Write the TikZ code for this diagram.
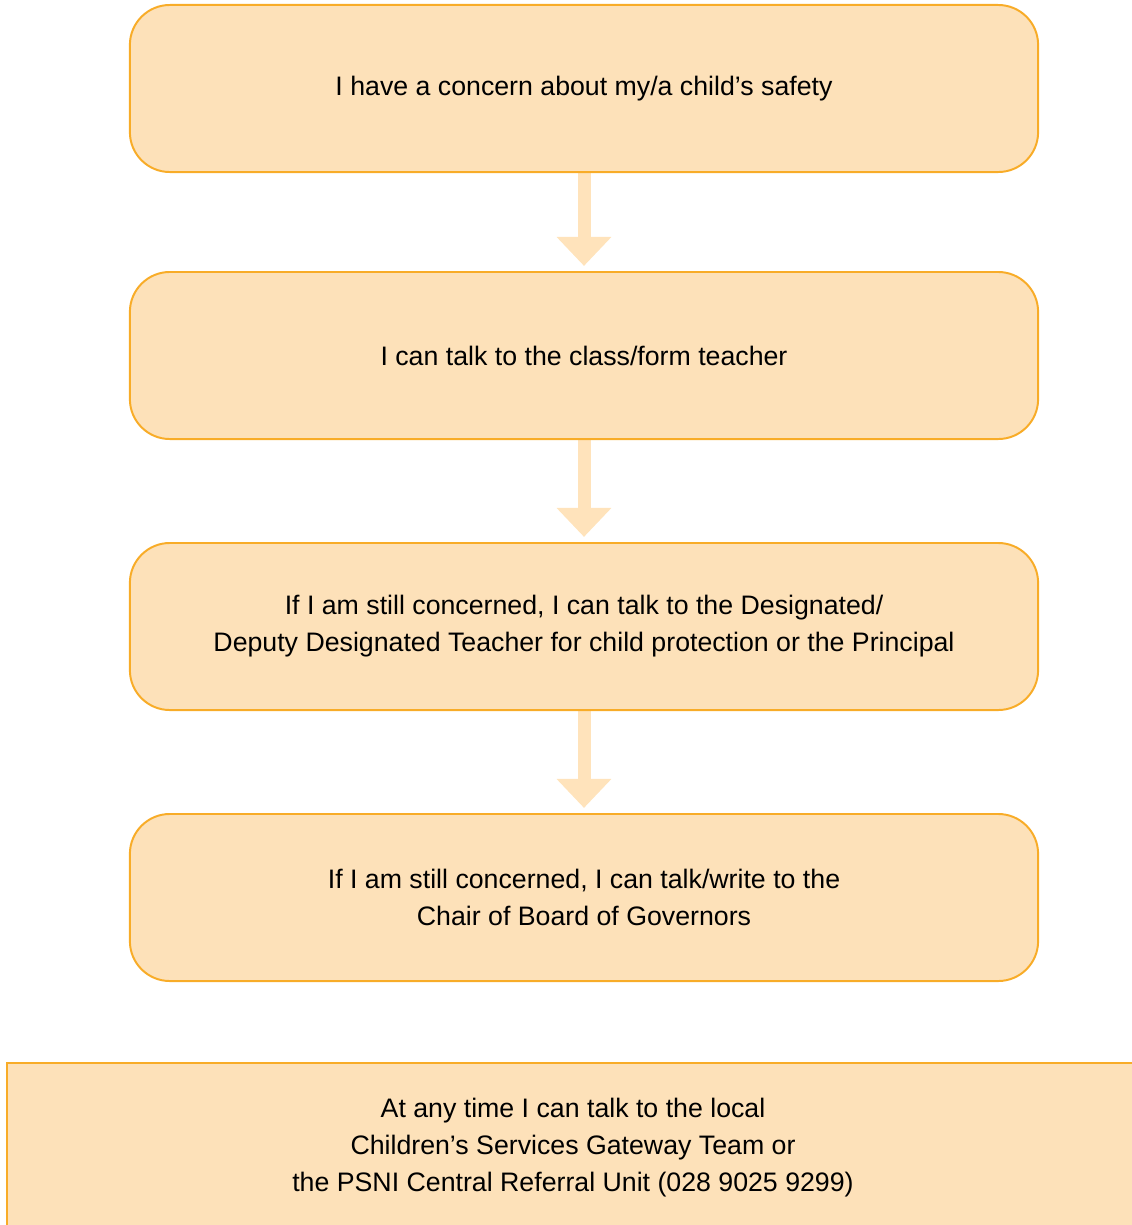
\documentclass[tikz,border=0pt]{standalone}
\usepackage{fontspec}
\setmainfont{Liberation Sans}
\usepackage{tikz}
\usetikzlibrary{arrows.meta}
\pgfdeclarelayer{edgelayer}
\pgfdeclarelayer{nodelayer}
\pgfsetlayers{edgelayer,nodelayer,main}
\definecolor{boxfill}{HTML}{FDE1B9}
\definecolor{boxline}{HTML}{F8AC28}
\definecolor{arrowfill}{HTML}{FFE3BB}
\tikzstyle{none}=[inner sep=0pt]
\tikzstyle{stepbox}=[draw=boxline, fill=boxfill, line width=1.4pt, rounded corners=28.4pt, minimum width=22.7cm, minimum height=4.175cm, align=center, font=\fontsize{19pt}{26.3pt}\selectfont]
\tikzstyle{anytime}=[stepbox, rounded corners=0pt, minimum width=28.3cm, minimum height=4.25cm]
\tikzstyle{flow}=[draw=arrowfill, line width=9.25pt, -{Triangle[width=37.7pt, length=20.6pt, color=arrowfill]}, shorten >=3.6pt]

\begin{document}
\begin{tikzpicture}[x=0.025cm, y=-0.025cm]
	\useasboundingbox (0, 0) rectangle (1132, 1225);
	\begin{pgfonlayer}{nodelayer}
		\node [style=stepbox] (0) at (584, 88.5) {I have a concern about my/a child’s safety};
		\node [style=stepbox] (1) at (584, 355.5) {I can talk to the class/form teacher};
		\node [style=stepbox] (2) at (584, 626.5) {If I am still concerned, I can talk to the Designated/\\Deputy Designated Teacher for child protection or the Principal};
		\node [style=stepbox] (3) at (584, 897.5) {If I am still concerned, I can talk/write to the\\Chair of Board of Governors};
		\node [style=anytime] (4) at (573, 1148) {At any time I can talk to the local\\Children’s Services Gateway Team or\\the PSNI Central Referral Unit (028 9025 9299)};
	\end{pgfonlayer}
	\begin{pgfonlayer}{edgelayer}
		\draw [style=flow] (0.south) to (1.north);
		\draw [style=flow] (1.south) to (2.north);
		\draw [style=flow] (2.south) to (3.north);
	\end{pgfonlayer}
\end{tikzpicture}
\end{document}
